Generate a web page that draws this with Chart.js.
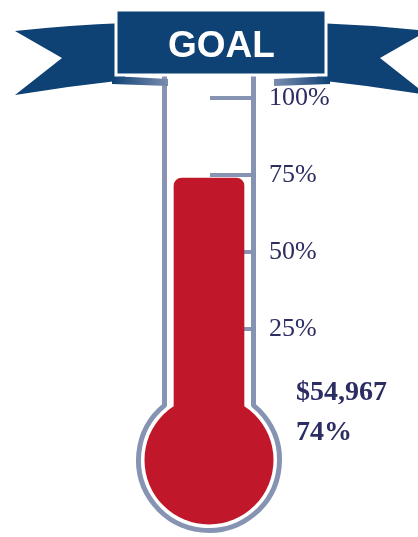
<!DOCTYPE html>
<html>
<head>
<meta charset="utf-8">
<script src="https://cdn.jsdelivr.net/npm/chart.js@4/dist/chart.umd.min.js"></script>
<style>
  html, body { margin: 0; padding: 0; background: #fff; }
  #wrap { width: 418px; height: 537px; position: relative; }
</style>
</head>
<body>
<div id="wrap"><canvas id="goalChart"></canvas></div>
<script>
// Fundraising thermometer: raised amount vs goal

const categories = ['Raised'];
const percentValues = [74];
const raisedAmounts = [54967];
const tickValues = [25, 50, 75, 100];
const titleText = 'GOAL';

const NAVY = '#0e4174';
const RED = '#c0172b';
const GLASS = '#8793b2';
const INK = '#2b2d63';

const thermometer = {
    id: 'thermometer',
    beforeDatasetsDraw(chart) {
        const ctx = chart.ctx;
        const y = chart.scales.y;
        const xc = chart.scales.x.getPixelForValue(0);
        const y0 = y.getPixelForValue(0);
        const half = 44.5;
        const cy = y0 + 54;
        const r = 70.5;
        const joinY = cy - Math.sqrt(r * r - half * half);
        const a1 = Math.atan2(joinY - cy, -half);
        const a2 = Math.atan2(joinY - cy, half);

        ctx.save();
        // glass outline
        ctx.strokeStyle = GLASS;
        ctx.lineWidth = 5;
        ctx.lineJoin = 'round';
        ctx.beginPath();
        ctx.moveTo(xc - half, 76);
        ctx.lineTo(xc - half, joinY);
        ctx.arc(xc, cy, r, a1, a2, true);
        ctx.lineTo(xc + half, 76);
        ctx.stroke();

        // tick marks hanging off the right wall (bar covers the lower ones)
        ctx.lineWidth = 4;
        tickValues.forEach(v => {
            const py = y.getPixelForValue(v);
            ctx.beginPath();
            ctx.moveTo(xc + 1, py);
            ctx.lineTo(xc + half, py);
            ctx.stroke();
        });

        // bulb
        ctx.fillStyle = RED;
        ctx.beginPath();
        ctx.arc(xc, cy, 64.5, 0, Math.PI * 2);
        ctx.fill();
        ctx.restore();
    },
    afterDraw(chart) {
        const ctx = chart.ctx;
        const y0 = chart.scales.y.getPixelForValue(0);
        const tx = chart.chartArea.right + 38;

        ctx.save();
        ctx.fillStyle = INK;
        ctx.font = 'bold 28px "Liberation Serif", "Times New Roman", serif';
        ctx.textBaseline = 'middle';
        ctx.textAlign = 'left';
        ctx.fillText('$' + raisedAmounts[0].toLocaleString('en-US'), tx, y0 - 13);
        ctx.fillText(percentValues[0] + '%', tx, y0 + 27);

        // ribbon tails
        const tail = (m) => {
            const X = v => m ? 442 - v : v;
            ctx.beginPath();
            ctx.moveTo(X(15), 31);
            ctx.quadraticCurveTo(X(70), 25, X(125), 23);
            ctx.lineTo(X(125), 80);
            ctx.quadraticCurveTo(X(70), 86, X(15), 95);
            ctx.lineTo(X(62), 58);
            ctx.closePath();
            ctx.fillStyle = NAVY;
            ctx.fill();

            const g = ctx.createLinearGradient(X(112), 0, X(168), 0);
            g.addColorStop(0, NAVY);
            g.addColorStop(1, '#7b8db0');
            ctx.beginPath();
            ctx.moveTo(X(112), 76);
            ctx.lineTo(X(168), 79);
            ctx.lineTo(X(168), 86);
            ctx.lineTo(X(112), 84);
            ctx.closePath();
            ctx.fillStyle = g;
            ctx.fill();
        };
        tail(false);
        tail(true);

        // banner
        ctx.fillStyle = NAVY;
        ctx.strokeStyle = '#ffffff';
        ctx.lineWidth = 3;
        ctx.beginPath();
        ctx.rect(116, 10, 210, 65);
        ctx.fill();
        ctx.stroke();

        ctx.fillStyle = '#ffffff';
        ctx.font = 'bold 37px "Liberation Sans", Arial, sans-serif';
        ctx.textAlign = 'center';
        ctx.fillText(titleText, 221.5, 47);
        ctx.restore();
    }
};

new Chart(document.getElementById('goalChart'), {
    type: 'bar',
    data: {
        labels: categories,
        datasets: [{
            data: percentValues,
            backgroundColor: RED,
            barThickness: 70,
            borderRadius: { topLeft: 8, topRight: 8, bottomLeft: 0, bottomRight: 0 },
            borderSkipped: false
        }]
    },
    options: {
        responsive: true,
        maintainAspectRatio: false,
        animation: false,
        layout: { padding: { left: 160, right: 0, top: 98, bottom: 131 } },
        plugins: {
            legend: { display: false },
            tooltip: { enabled: false }
        },
        scales: {
            x: { display: false },
            y: {
                position: 'right',
                min: 0,
                max: 100,
                afterBuildTicks(scale) {
                    scale.ticks = tickValues.map(v => ({ value: v }));
                },
                afterFit(scale) { scale.width = 160; },
                grid: { display: false, drawTicks: false },
                border: { display: false },
                ticks: {
                    padding: 11,
                    color: INK,
                    font: { family: '"Liberation Serif", "Times New Roman", serif', size: 26 },
                    callback: v => v + '%'
                }
            }
        }
    },
    plugins: [thermometer]
});
</script>
</body>
</html>
